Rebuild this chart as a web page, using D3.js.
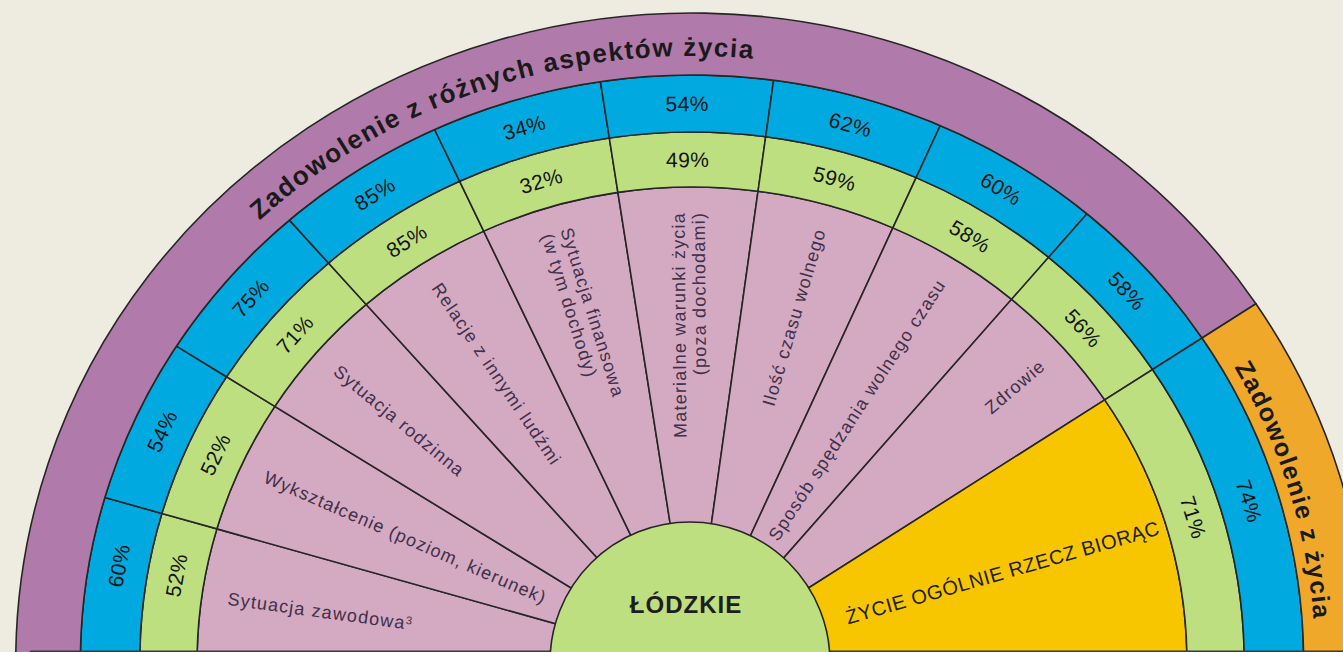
<!DOCTYPE html>
<html>
<head>
<meta charset="utf-8">
<script src="https://cdnjs.cloudflare.com/ajax/libs/d3/7.8.5/d3.min.js"></script>
<style>
  body { margin: 0; background: #EEECE0; }
  svg { display: block; font-family: "Liberation Sans", Arial, sans-serif; }
</style>
</head>
<body>
<svg width="1343" height="652"></svg>
<script>
// aspects of life (inner pink segments) + overall life (yellow)
var aspects = [
  ["Sytuacja zawodowa³"],
  ["Wykształcenie (poziom, kierunek)"],
  ["Sytuacja rodzinna"],
  ["Relacje z innymi ludźmi"],
  ["Sytuacja finansowa", "(w tym dochody)"],
  ["Materialne warunki życia", "(poza dochodami)"],
  ["Ilość czasu wolnego"],
  ["Sposób spędzania wolnego czasu"],
  ["Zdrowie"],
  ["ŻYCIE OGÓLNIE RZECZ BIORĄC"]
];
var greenValues = [52, 52, 71, 85, 32, 49, 59, 58, 56, 71];
var blueValues  = [60, 54, 75, 85, 34, 54, 62, 60, 58, 74];
var regionName = "ŁÓDZKIE";
var headerAspects = "Zadowolenie z różnych aspektów życia";
var headerLife = "Zadowolenie z życia";

var svg = d3.select("svg"),
    cx = 692, cy = 662, sx = 1.042;

var rCenter = 140, rPink = 475, rGreen = 530, rBlue = 587, rOuter = 649;

var col = {
  purple: "#B07BAA", orange: "#F0A82A", blue: "#00AAE0",
  green: "#BDDF80", pink: "#D4A9C2", yellow: "#F8C600", line: "#262626"
};

// 9 equal aspect slices, the overall slice takes the rest up to 90deg
var angle = d3.scaleLinear().domain([0, 9]).range([-90, 56.5]);
var bounds = d3.range(10).map(function(i) { return angle(i); });
bounds.push(90);

var rad = function(d) { return d * Math.PI / 180; };
var arc = d3.arc();

function pos(r, a) {
  return [cx + sx * r * Math.sin(rad(a)), cy - r * Math.cos(rad(a))];
}

var g = svg.append("g")
  .attr("transform", "translate(" + cx + "," + cy + ") scale(" + sx + ",1)");

function ring(r0, r1, fill) {
  g.append("g").selectAll("path")
    .data(aspects)
    .enter().append("path")
      .attr("d", function(d, i) {
        return arc({innerRadius: r0, outerRadius: r1,
                    startAngle: rad(bounds[i]), endAngle: rad(bounds[i + 1])});
      })
      .attr("fill", fill)
      .attr("stroke", col.line)
      .attr("stroke-width", 1.6)
      .attr("vector-effect", "non-scaling-stroke");
}

ring(0, rPink, function(d, i) { return i < 9 ? col.pink : col.yellow; });
ring(rPink, rGreen, col.green);
ring(rGreen, rBlue, col.blue);

// outer header band
[[-90, 56.5, col.purple], [56.5, 90, col.orange]].forEach(function(b) {
  g.append("path")
    .attr("d", arc({innerRadius: rBlue, outerRadius: rOuter,
                    startAngle: rad(b[0]), endAngle: rad(b[1])}))
    .attr("fill", b[2])
    .attr("stroke", col.line)
    .attr("stroke-width", 1.6)
    .attr("vector-effect", "non-scaling-stroke");
});

// bottom edge
svg.append("line")
  .attr("x1", 30).attr("x2", 1343).attr("y1", 651.2).attr("y2", 651.2)
  .attr("stroke", "#3a3a3a").attr("stroke-width", 1.6);

// centre
svg.append("circle")
  .attr("cx", cx - 2).attr("cy", cy).attr("r", rCenter)
  .attr("fill", col.green).attr("stroke", col.line).attr("stroke-width", 1.6);

svg.append("text")
  .attr("x", cx - 6).attr("y", 613)
  .attr("text-anchor", "middle")
  .attr("font-size", 24).attr("font-weight", "bold")
  .attr("letter-spacing", 1)
  .attr("fill", "#1e1e1e")
  .text(regionName);

// percentages in rings
function ringLabels(values, r) {
  svg.append("g").selectAll("text")
    .data(values)
    .enter().append("text")
      .attr("transform", function(d, i) {
        var a = (bounds[i] + bounds[i + 1]) / 2;
        if (i == 0) a += 1.8;
        var p = pos(r, a);
        var rot = Math.atan2(Math.sin(rad(a)), sx * Math.cos(rad(a))) * 180 / Math.PI;
        return "translate(" + p[0] + "," + p[1] + ") rotate(" + rot + ")";
      })
      .attr("text-anchor", "middle")
      .attr("dy", "0.36em")
      .attr("font-size", 21)
      .attr("letter-spacing", 0.5)
      .attr("fill", "#141414")
      .text(function(d) { return d + "%"; });
}
ringLabels(blueValues, (rGreen + rBlue) / 2);
ringLabels(greenValues, (rPink + rGreen) / 2);

// aspect labels, anchored at the outer end of each slice
var lab = svg.append("g").selectAll("text")
  .data(aspects)
  .enter().append("text")
    .attr("transform", function(d, i) {
      var a = (bounds[i] + bounds[i + 1]) / 2;
      var r = i < 9 ? 450 : 468;
      var p = pos(r, a);
      var s = Math.sin(rad(a)), c = Math.cos(rad(a));
      var rot = a < -8
        ? Math.atan2(c, -sx * s) * 180 / Math.PI
        : Math.atan2(-c, sx * s) * 180 / Math.PI;
      return "translate(" + p[0] + "," + p[1] + ") rotate(" + rot + ")";
    })
    .attr("text-anchor", function(d, i) {
      return (bounds[i] + bounds[i + 1]) / 2 < -8 ? "start" : "end";
    })
    .attr("font-size", function(d, i) { return i < 9 ? 18 : 20; })
    .attr("letter-spacing", function(d, i) { return i < 9 ? 1.2 : 0.6; })
    .attr("fill", function(d, i) { return i < 9 ? "#40304a" : "#1e1e1e"; });

lab.each(function(d) {
  var t = d3.select(this);
  d.forEach(function(line, k) {
    var off = d.length == 1 ? 0.36 : (k == 0 ? -0.2 : 0.92);
    var parts = line.split("³");
    var ts = t.append("tspan")
      .attr("x", 0)
      .attr("y", 0)
      .attr("dy", off + "em")
      .text(parts[0]);
    if (parts.length > 1) {
      t.append("tspan")
        .attr("dy", "-0.5em")
        .attr("font-size", 11)
        .text("3");
    }
  });
});

// curved headers on elliptical paths
function ellipsePath(r, a0, a1) {
  var p0 = pos(r, a0), p1 = pos(r, a1);
  return "M" + p0[0] + "," + p0[1] + " A" + (sx * r) + "," + r + " 0 0 1 " + p1[0] + "," + p1[1];
}
var defs = svg.append("defs");
defs.append("path").attr("id", "hdr1").attr("d", ellipsePath(606, -62, 24));
defs.append("path").attr("id", "hdr2").attr("d", ellipsePath(598, 56, 90.5));

[["#hdr1", headerAspects, 26], ["#hdr2", headerLife, 25]].forEach(function(h) {
  svg.append("text")
    .attr("font-size", h[2])
    .attr("font-weight", "bold")
    .attr("letter-spacing", 1.5)
    .attr("fill", "#1a1a1a")
    .append("textPath")
      .attr("href", h[0])
      .attr("startOffset", "50%")
      .attr("text-anchor", "middle")
      .text(h[1]);
});
</script>
</body>
</html>
